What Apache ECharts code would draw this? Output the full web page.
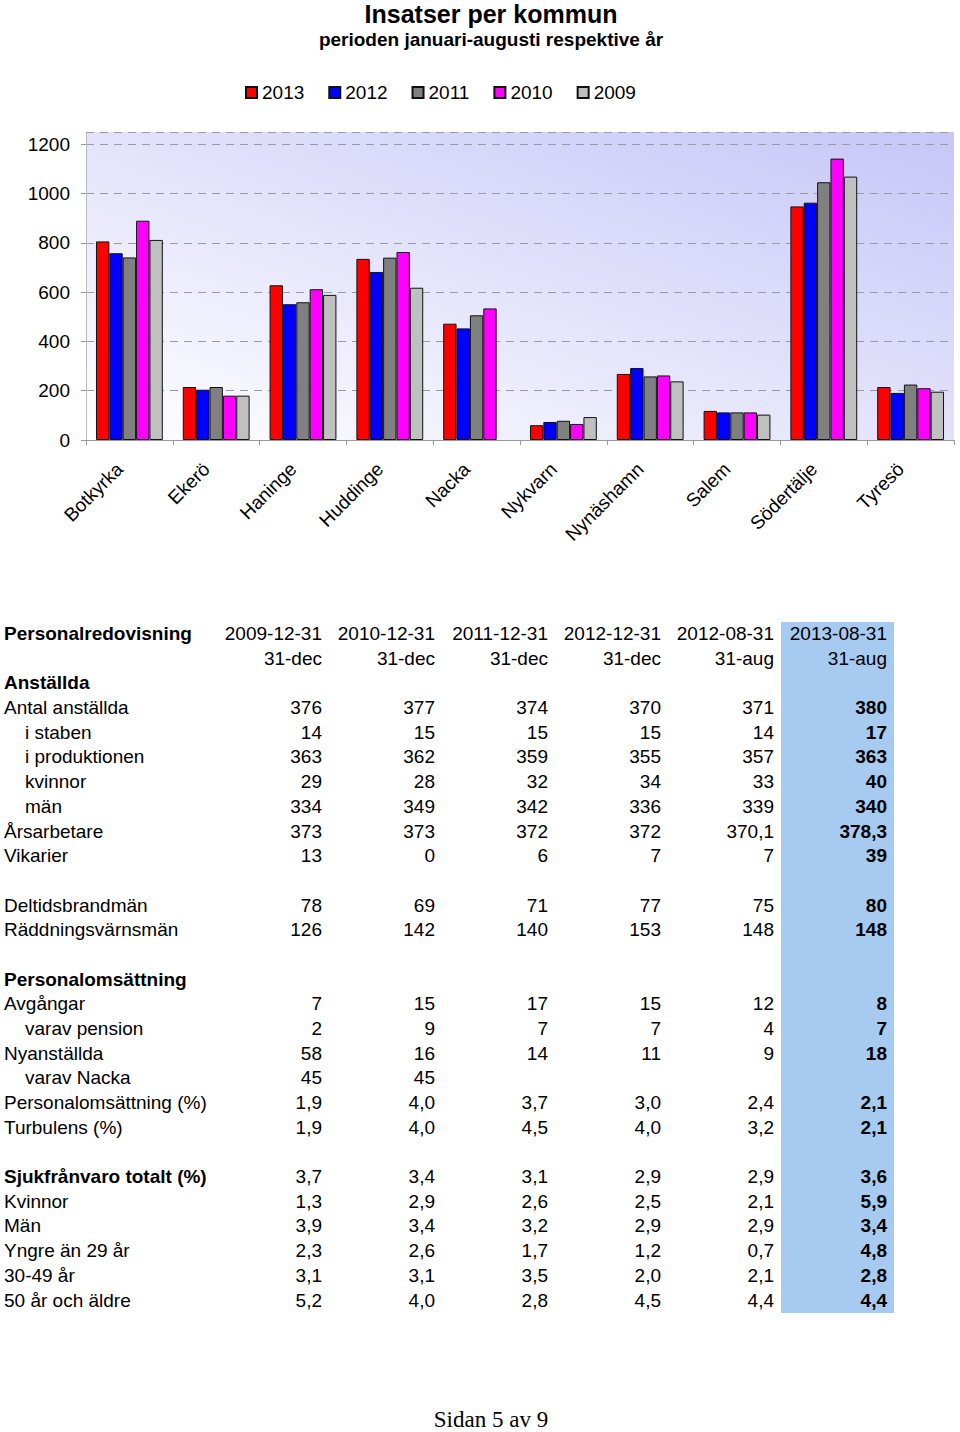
<!DOCTYPE html>
<html>
<head>
<meta charset="utf-8">
<script src="https://cdn.jsdelivr.net/npm/echarts@6/dist/echarts.min.js"></script>
<style>
  html, body { margin: 0; padding: 0; background: #fff; }
  body { width: 960px; height: 1432px; position: relative; overflow: hidden; font-family: 'Liberation Sans', Arial, sans-serif; }
  #chart { position: absolute; left: 0; top: 0; width: 960px; height: 612px; }
  #tbl { position: absolute; left: 0; top: 622px; border-collapse: collapse; table-layout: fixed; font-size: 19px; color: #000; }
  #tbl td { padding: 0; height: 24.68px; line-height: 24.68px; white-space: nowrap; overflow: visible; }
  #tbl td.lab { width: 212px; padding-left: 4px; text-align: left; }
  #tbl td.num { width: 106px; padding-right: 7px; text-align: right; }
  #tbl td.hl { background: #a6caf0; font-weight: bold; }
  #tbl td.hl.plain { font-weight: normal; }
  #tbl td.indent { padding-left: 25px; width: 191px; }
  #tbl td.b { font-weight: bold; }
  #footer { position: absolute; left: 0; width: 982px; top: 1407px; text-align: center; font-family: 'Liberation Serif', 'Times New Roman', serif; font-size: 23px; color: #000; }
</style>
</head>
<body>
<div id="chart"></div>
<table id="tbl"></table>
<div id="footer">Sidan 5 av 9</div>
<script>
// ---------- Chart data ----------
const categories = ['Botkyrka', 'Ekerö', 'Haninge', 'Huddinge', 'Nacka', 'Nykvarn', 'Nynäshamn', 'Salem', 'Södertälje', 'Tyresö'];
const seriesNames = ['2013', '2012', '2011', '2010', '2009'];
const values2013 = [806, 215, 628, 735, 472, 60, 268, 118, 948, 215];
const values2012 = [758, 204, 551, 682, 453, 73, 292, 112, 963, 191];
const values2011 = [741, 215, 559, 740, 506, 78, 258, 112, 1046, 225];
const values2010 = [890, 180, 612, 763, 534, 65, 262, 112, 1142, 210];
const values2009 = [812, 180, 589, 618, null, 93, 238, 103, 1069, 196];
const seriesColors = ['#ff0000', '#0000ff', '#808080', '#ff00ff', '#c0c0c0'];
const yTicks = [0, 200, 400, 600, 800, 1000, 1200];

// ---------- Table data ----------
const colHeads = ['2009-12-31', '2010-12-31', '2011-12-31', '2012-12-31', '2012-08-31', '2013-08-31'];
const colSubHeads = ['31-dec', '31-dec', '31-dec', '31-dec', '31-aug', '31-aug'];
const rowLabels = [
  'Anställda', 'Antal anställda', 'i staben', 'i produktionen', 'kvinnor', 'män', 'Årsarbetare', 'Vikarier', '',
  'Deltidsbrandmän', 'Räddningsvärnsmän', '',
  'Personalomsättning', 'Avgångar', 'varav pension', 'Nyanställda', 'varav Nacka', 'Personalomsättning (%)', 'Turbulens (%)', '',
  'Sjukfrånvaro totalt (%)', 'Kvinnor', 'Män', 'Yngre än 29 år', '30-49 år', '50 år och äldre'
];
const rowKinds = [
  'head', 'plain', 'indent', 'indent', 'indent', 'indent', 'plain', 'plain', 'blank',
  'plain', 'plain', 'blank',
  'head', 'plain', 'indent', 'plain', 'indent', 'plain', 'plain', 'blank',
  'head', 'plain', 'plain', 'plain', 'plain', 'plain'
];
const rowValues = [
  ['', '', '', '', '', ''],
  ['376', '377', '374', '370', '371', '380'],
  ['14', '15', '15', '15', '14', '17'],
  ['363', '362', '359', '355', '357', '363'],
  ['29', '28', '32', '34', '33', '40'],
  ['334', '349', '342', '336', '339', '340'],
  ['373', '373', '372', '372', '370,1', '378,3'],
  ['13', '0', '6', '7', '7', '39'],
  ['', '', '', '', '', ''],
  ['78', '69', '71', '77', '75', '80'],
  ['126', '142', '140', '153', '148', '148'],
  ['', '', '', '', '', ''],
  ['', '', '', '', '', ''],
  ['7', '15', '17', '15', '12', '8'],
  ['2', '9', '7', '7', '4', '7'],
  ['58', '16', '14', '11', '9', '18'],
  ['45', '45', '', '', '', ''],
  ['1,9', '4,0', '3,7', '3,0', '2,4', '2,1'],
  ['1,9', '4,0', '4,5', '4,0', '3,2', '2,1'],
  ['', '', '', '', '', ''],
  ['3,7', '3,4', '3,1', '2,9', '2,9', '3,6'],
  ['1,3', '2,9', '2,6', '2,5', '2,1', '5,9'],
  ['3,9', '3,4', '3,2', '2,9', '2,9', '3,4'],
  ['2,3', '2,6', '1,7', '1,2', '0,7', '4,8'],
  ['3,1', '3,1', '3,5', '2,0', '2,1', '2,8'],
  ['5,2', '4,0', '2,8', '4,5', '4,4', '4,4']
];

// ---------- Build table ----------
(function buildTable() {
  const tbl = document.getElementById('tbl');
  function addRow(label, vals, labClass, hlPlain) {
    const tr = document.createElement('tr');
    const td0 = document.createElement('td');
    td0.className = 'lab' + (labClass ? ' ' + labClass : '');
    td0.textContent = label;
    tr.appendChild(td0);
    vals.forEach((v, i) => {
      const td = document.createElement('td');
      td.className = 'num' + (i === vals.length - 1 ? ' hl' + (hlPlain ? ' plain' : '') : '');
      td.textContent = v;
      tr.appendChild(td);
    });
    tbl.appendChild(tr);
  }
  addRow('Personalredovisning', colHeads, 'b', true);
  addRow('', colSubHeads, '', true);
  rowLabels.forEach((lab, i) => {
    const k = rowKinds[i];
    const cls = k === 'head' ? 'b' : (k === 'indent' ? 'indent' : '');
    addRow(lab, rowValues[i], cls, false);
  });
})();

// ---------- Chart ----------
const chart = echarts.init(document.getElementById('chart'), null, { renderer: 'svg' });
const allValues = [values2013, values2012, values2011, values2010, values2009];
const FONT = "'Liberation Sans', Arial, sans-serif";

chart.setOption({
  animation: false,
  title: [{
    text: 'Insatser per kommun',
    left: 491,
    top: 0,
    padding: 0,
    textAlign: 'center',
    textStyle: { fontFamily: FONT, fontSize: 25, lineHeight: 28, fontWeight: 'bold', color: '#000' }
  }, {
    text: 'perioden januari-augusti respektive år',
    left: 491,
    top: 28,
    padding: 0,
    textAlign: 'center',
    textStyle: { fontFamily: FONT, fontSize: 19, lineHeight: 22, fontWeight: 'bold', color: '#000' }
  }],
  legend: {
    data: seriesNames,
    left: 240,
    top: 78,
    icon: 'rect',
    itemWidth: 11,
    itemHeight: 11,
    itemGap: 24,
    textStyle: { fontFamily: FONT, fontSize: 19, color: '#000' }
  },
  grid: {
    left: 86,
    right: 6,
    top: 132,
    height: 308,
    show: true,
    borderWidth: 0,
    backgroundColor: {
      type: 'linear', x: 0, y: 1, x2: 1, y2: 0,
      colorStops: [
        { offset: 0, color: '#ffffff' },
        { offset: 1, color: '#c6c6f8' }
      ]
    }
  },
  xAxis: {
    type: 'category',
    data: categories,
    axisLine: { show: true, lineStyle: { color: '#999', width: 1 } },
    axisTick: { show: true, length: 5, lineStyle: { color: '#999' } },
    axisLabel: {
      interval: 0,
      rotate: 45,
      margin: 16,
      padding: [0, 14, 0, 0],
      fontFamily: FONT,
      fontSize: 19,
      color: '#000'
    }
  },
  yAxis: {
    type: 'value',
    min: 0,
    max: 1250,
    interval: 200,
    axisLine: { show: true, lineStyle: { color: '#bbb', width: 1 } },
    axisTick: { show: true, length: 5, lineStyle: { color: '#999' } },
    axisLabel: {
      showMaxLabel: false,
      margin: 16,
      fontFamily: FONT,
      fontSize: 19,
      color: '#000',
      formatter: v => (yTicks.indexOf(v) >= 0 ? String(v) : '')
    },
    splitLine: { show: true, lineStyle: { color: '#9a9aa6', type: [8, 6], width: 1 } }
  },
  series: seriesNames.map((name, i) => ({
    name: name,
    type: 'bar',
    data: allValues[i],
    barGap: '0%',
    barCategoryGap: '23%',
    itemStyle: { color: seriesColors[i], borderColor: '#111', borderWidth: 1 }
  }))
});
</script>
</body>
</html>
